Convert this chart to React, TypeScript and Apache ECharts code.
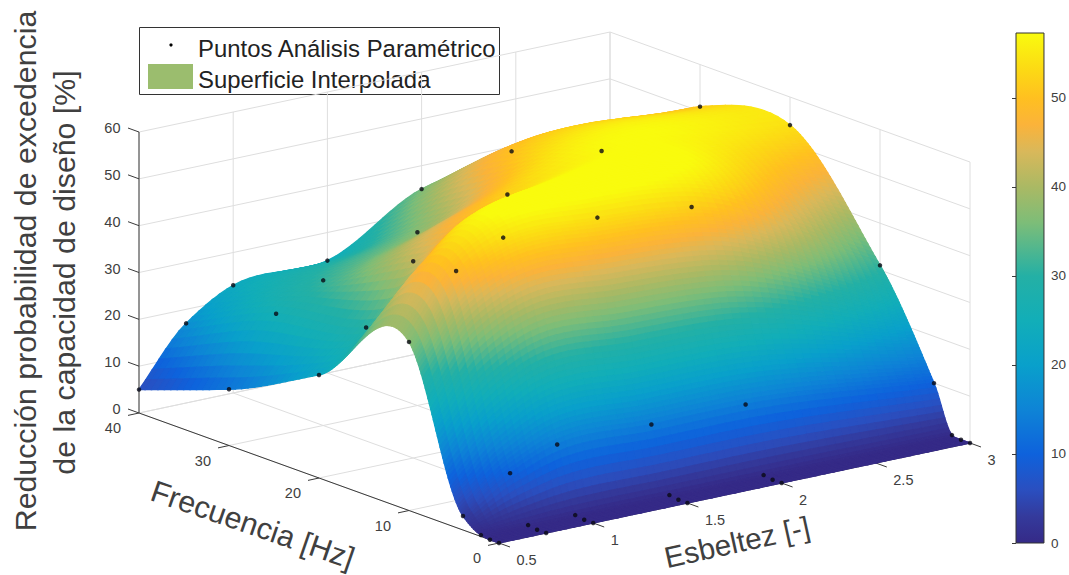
import React, { useEffect, useRef } from "react";
import * as echarts from "echarts";

const ESBELTEZ = [0.5, 0.75, 1, 1.5, 2, 3];
const FRECUENCIA = [0, 1, 2, 4, 10, 20, 30, 40];
// Reducción [%]: one row per frequency, one column per slenderness
const R_F0 = [0, 0, 0, 0, 0, 0];
const R_F1 = [0, 0, 0, 0, 0, 0];
const R_F2 = [0.3, 0.3, 0.3, 0.3, 0.3, 0.3];
const R_F4 = [3, 10, 14, 14, 14, 10];
const R_F10 = [36, 49, 54, 54, 52, 31];
const R_F20 = [22, 30, 42, 52, 57, 54];
const R_F30 = [12, 26, 31, 37, 50, 51];
const R_F40 = [5, 17, 23, 24, 35, 35];
const REDUCCION = [R_F0, R_F1, R_F2, R_F4, R_F10, R_F20, R_F30, R_F40];

const X_TICKS = [0.5, 1, 1.5, 2, 2.5, 3];
const Y_TICKS = [0, 10, 20, 30, 40];
const Z_TICKS = [0, 10, 20, 30, 40, 50, 60];
const CB_TICKS = [0, 10, 20, 30, 40, 50];
const CB_MAX = 57.3;

const PARULA_Z = [0, 3, 6, 10, 15, 20, 25, 30, 36, 40, 44, 47, 50, 53, 57.3];
const PARULA_C = ["#352a87", "#343a9c", "#2a4fc0", "#0e62dc", "#0e84d6", "#09a0cb", "#12aeb8", "#24b0a5", "#7dbd78", "#aab964", "#d9b85a", "#fbb33a", "#ffc020", "#fcd815", "#f9fb0e"];

const TEXT = "#404040";
const GRID = "#dedede";
const AXIS = "#3a3a3a";
const FONT = "'Liberation Sans', Arial, sans-serif";

// Orthographic view of the reference's axes box
const project = (x: number, y: number, z: number): number[] => [
  499 + (x - 0.5) * 188.4 - y * 9,
  543 - (x - 0.5) * 40 - y * 3.25 - z * 4.683,
];

// Piecewise cubic through the read values, with damped three-point slopes at the knots
function hermite(xs: number[], ys: number[]) {
  const n = xs.length;
  const s: number[] = [];
  for (let i = 0; i < n - 1; i++) s.push((ys[i + 1] - ys[i]) / (xs[i + 1] - xs[i]));
  const d: number[] = new Array(n);
  d[0] = s[0];
  d[n - 1] = s[n - 2];
  for (let i = 1; i < n - 1; i++) {
    const h0 = xs[i] - xs[i - 1];
    const h1 = xs[i + 1] - xs[i];
    d[i] = (0.85 * (h0 * s[i] + h1 * s[i - 1])) / (h0 + h1);
  }
  return (x: number) => {
    let k = 0;
    while (k < n - 2 && x > xs[k + 1]) k++;
    const h = xs[k + 1] - xs[k];
    const t = (x - xs[k]) / h;
    const t2 = t * t;
    const t3 = t2 * t;
    return (2 * t3 - 3 * t2 + 1) * ys[k] + (t3 - 2 * t2 + t) * h * d[k] + (-2 * t3 + 3 * t2) * ys[k + 1] + (t3 - t2) * h * d[k + 1];
  };
}

const columnCurves = ESBELTEZ.map((_, c) => hermite(FRECUENCIA, REDUCCION.map((r) => r[c])));
const surfaceAt = (x: number, y: number) => {
  const vals = columnCurves.map((s) => s(y));
  return Math.max(0, hermite(ESBELTEZ, vals)(x));
};

function subdivide(knots: number[], parts: number[]) {
  const out: number[] = [];
  for (let i = 0; i < knots.length - 1; i++) {
    for (let k = 0; k < parts[i]; k++) out.push(knots[i] + ((knots[i + 1] - knots[i]) * k) / parts[i]);
  }
  out.push(knots[knots.length - 1]);
  return out;
}
const meshX = subdivide(ESBELTEZ, [7, 7, 12, 12, 22]);
const meshY = subdivide(FRECUENCIA, [3, 4, 10, 40, 36, 14, 14]);
const meshZ = meshY.map((y) => {
  const rowCurve = hermite(ESBELTEZ, columnCurves.map((s) => s(y)));
  return meshX.map((x) => Math.max(0, rowCurve(x)));
});

function parula(z: number) {
  const t = Math.min(CB_MAX, Math.max(0, z));
  let k = 0;
  while (k < PARULA_Z.length - 2 && t > PARULA_Z[k + 1]) k++;
  const f = (t - PARULA_Z[k]) / (PARULA_Z[k + 1] - PARULA_Z[k]);
  const a = parseInt(PARULA_C[k].slice(1), 16);
  const b = parseInt(PARULA_C[k + 1].slice(1), 16);
  const mix = (s: number) => Math.round(((a >> s) & 255) * (1 - f) + ((b >> s) & 255) * f);
  return `rgb(${mix(16)},${mix(8)},${mix(0)})`;
}

// far cells first
const cells: number[][] = [];
for (let j = meshY.length - 2; j >= 0; j--) {
  for (let i = meshX.length - 2; i >= 0; i--) cells.push([i, j]);
}

// A dot is kept only if the surface does not cover it along the line of sight
function visible(x: number, y: number, z: number) {
  for (let t = 0.01; ; t += 0.01) {
    const px = x - t;
    const py = y - 20.93 * t;
    if (px < 0.5 || py < 0) return true;
    if (surfaceAt(px, py) > z + 23.07 * t + 1.5) return false;
  }
}
const dots: number[][] = [];
FRECUENCIA.forEach((y, r) =>
  ESBELTEZ.forEach((x, c) => {
    const z = REDUCCION[r][c];
    if (visible(x, y, z)) dots.push(project(x, y, z));
  })
);

// Axis box segments: [x1,y1,z1,x2,y2,z2]
const gridSegs: number[][] = [];
X_TICKS.forEach((x) => {
  gridSegs.push([x, 0, 0, x, 40, 0]);
  gridSegs.push([x, 40, 0, x, 40, 60]);
});
Y_TICKS.forEach((y) => {
  gridSegs.push([0.5, y, 0, 3, y, 0]);
  gridSegs.push([3, y, 0, 3, y, 60]);
});
Z_TICKS.forEach((z) => {
  gridSegs.push([0.5, 40, z, 3, 40, z]);
  gridSegs.push([3, 40, z, 3, 0, z]);
});

type Label = { t: string; p: number[]; dx: number; dy: number; align: string };
type Seg = { a: number[]; b: number[] };
const axisSegs: Seg[] = [
  { a: project(0.5, 0, 0), b: project(3, 0, 0) },
  { a: project(0.5, 0, 0), b: project(0.5, 40, 0) },
  { a: project(0.5, 40, 0), b: project(0.5, 40, 60) },
];
const labels: Label[] = [];
X_TICKS.forEach((x) => {
  const p = project(x, 0, 0);
  axisSegs.push({ a: p, b: [p[0] + 11, p[1] + 4] });
  labels.push({ t: String(x), p, dx: 17.5, dy: 17, align: "left" });
});
Y_TICKS.forEach((y) => {
  const p = project(0.5, y, 0);
  axisSegs.push({ a: p, b: [p[0] - 11, p[1] + 2.4] });
  labels.push({ t: String(y), p, dx: -18, dy: 15, align: "right" });
});
Z_TICKS.forEach((z) => {
  const p = project(0.5, 40, z);
  axisSegs.push({ a: p, b: [p[0] - 11, p[1] - 4] });
  labels.push({ t: String(z), p, dx: -18.5, dy: -4, align: "right" });
});

export default function App() {
  const ref = useRef<HTMLDivElement>(null);
  useEffect(() => {
    document.body.style.margin = "0";
    const chart = echarts.init(ref.current!, null, { renderer: "svg" });
    const poly = (api: any, pts: number[][], fill: string) => ({
      type: "polygon",
      shape: { points: pts.map((p) => api.coord(p)) },
      style: { fill, stroke: fill, lineWidth: 1.3 },
    });
    const titleText = (text: string, x: number, y: number, rotation: number, size: number) => ({
      type: "text",
      x,
      y,
      rotation,
      style: { text, fontSize: size, fontFamily: FONT, fill: TEXT, align: "center", verticalAlign: "middle" },
    });
    chart.setOption({
      animation: false,
      backgroundColor: "#ffffff",
      grid: [
        { left: 0, top: 0, width: 1069, height: 575, show: false },
        { left: 1016, top: 33, width: 29, height: 510, show: false },
      ],
      xAxis: [
        { type: "value", min: 0, max: 1069, show: false, gridIndex: 0 },
        { type: "value", min: 0, max: 1, show: false, gridIndex: 1 },
      ],
      yAxis: [
        { type: "value", min: 0, max: 575, inverse: true, show: false, gridIndex: 0 },
        {
          type: "value",
          gridIndex: 1,
          position: "right",
          min: 0,
          max: CB_MAX,
          splitLine: { show: false },
          axisLine: { show: false },
          axisTick: { show: true, inside: true, length: 4, customValues: CB_TICKS, lineStyle: { color: AXIS } },
          axisLabel: { customValues: CB_TICKS, margin: 7, color: TEXT, fontSize: 13.5, fontFamily: FONT },
        },
      ],
      graphic: [
        {
          type: "group",
          z: 100,
          children: [
            { type: "rect", shape: { x: 139.5, y: 27.5, width: 360, height: 67 }, style: { fill: "#fff", stroke: "#333", lineWidth: 1 } },
            { type: "circle", shape: { cx: 171, cy: 45, r: 1.6 }, style: { fill: "#000" } },
            { type: "rect", shape: { x: 148, y: 64, width: 45, height: 25 }, style: { fill: "#9bbd6e" } },
            { type: "text", x: 198, y: 48, style: { text: "Puntos Análisis Paramétrico", fontSize: 23.9, fontFamily: FONT, fill: "#222", verticalAlign: "middle" } },
            { type: "text", x: 198, y: 79, style: { text: "Superficie Interpolada", fontSize: 23.9, fontFamily: FONT, fill: "#222", verticalAlign: "middle" } },
          ],
        },
        titleText("Reducción probabilidad de excedencia", 25, 271, Math.PI / 2, 30.3),
        titleText("de la capacidad de diseño [%]", 64.5, 272.5, Math.PI / 2, 30.3),
        titleText("Frecuencia [Hz]", 253, 524, (-19 * Math.PI) / 180, 30.4),
        titleText("Esbeltez [-]", 737, 542, (12.5 * Math.PI) / 180, 29.6),
      ],
      series: [
        {
          type: "custom",
          name: "Rejilla",
          coordinateSystem: "cartesian2d",
          xAxisIndex: 0,
          yAxisIndex: 0,
          clip: false,
          silent: true,
          z: 1,
          data: gridSegs,
          renderItem: (params: any, api: any) => {
            const s = gridSegs[params.dataIndex];
            const a = api.coord(project(s[0], s[1], s[2]));
            const b = api.coord(project(s[3], s[4], s[5]));
            return { type: "line", shape: { x1: a[0], y1: a[1], x2: b[0], y2: b[1] }, style: { stroke: GRID, lineWidth: 1 } };
          },
        },
        {
          type: "custom",
          name: "Ejes",
          coordinateSystem: "cartesian2d",
          xAxisIndex: 0,
          yAxisIndex: 0,
          clip: false,
          silent: true,
          z: 2,
          data: axisSegs.map((_, i) => i),
          renderItem: (params: any, api: any) => {
            const s = axisSegs[params.dataIndex];
            const a = api.coord(s.a);
            const b = api.coord(s.b);
            return { type: "line", shape: { x1: a[0], y1: a[1], x2: b[0], y2: b[1] }, style: { stroke: AXIS, lineWidth: 1 } };
          },
        },
        {
          type: "custom",
          name: "Etiquetas",
          coordinateSystem: "cartesian2d",
          xAxisIndex: 0,
          yAxisIndex: 0,
          clip: false,
          silent: true,
          z: 3,
          data: labels.map((_, i) => i),
          renderItem: (params: any, api: any) => {
            const l = labels[params.dataIndex];
            const p = api.coord([l.p[0] + l.dx, l.p[1] + l.dy]);
            return {
              type: "text",
              x: p[0],
              y: p[1],
              style: { text: l.t, fontSize: 14.5, fontFamily: FONT, fill: TEXT, align: l.align, verticalAlign: "middle" },
            };
          },
        },
        {
          type: "custom",
          name: "Superficie Interpolada",
          coordinateSystem: "cartesian2d",
          xAxisIndex: 0,
          yAxisIndex: 0,
          clip: false,
          silent: true,
          progressive: 0,
          z: 5,
          data: cells,
          renderItem: (params: any, api: any) => {
            const [i, j] = cells[params.dataIndex];
            const zz = [meshZ[j][i], meshZ[j][i + 1], meshZ[j + 1][i + 1], meshZ[j + 1][i]];
            const pts = [
              project(meshX[i], meshY[j], zz[0]),
              project(meshX[i + 1], meshY[j], zz[1]),
              project(meshX[i + 1], meshY[j + 1], zz[2]),
              project(meshX[i], meshY[j + 1], zz[3]),
            ];
            return poly(api, pts, parula((zz[0] + zz[1] + zz[2] + zz[3]) / 4));
          },
        },
        {
          type: "scatter",
          name: "Puntos Análisis Paramétrico",
          xAxisIndex: 0,
          yAxisIndex: 0,
          clip: false,
          silent: true,
          z: 6,
          symbolSize: 4.5,
          itemStyle: { color: "#0a0a14" },
          data: dots,
        },
        {
          type: "custom",
          name: "Barra de color",
          coordinateSystem: "cartesian2d",
          xAxisIndex: 1,
          yAxisIndex: 1,
          clip: false,
          silent: true,
          z: 4,
          data: [[0, CB_MAX]],
          renderItem: (params: any, api: any) => {
            const a = api.coord([0, CB_MAX]);
            const b = api.coord([1, 0]);
            return {
              type: "rect",
              shape: { x: a[0], y: a[1], width: b[0] - a[0], height: b[1] - a[1] },
              style: {
                fill: new echarts.graphic.LinearGradient(0, 1, 0, 0, PARULA_C.map((color, i) => ({ offset: PARULA_Z[i] / CB_MAX, color }))),
                stroke: "#333",
                lineWidth: 1,
              },
            };
          },
        },
      ],
    });
    return () => chart.dispose();
  }, []);
  return <div ref={ref} style={{ position: "absolute", left: 0, top: 0, width: 1069, height: 575 }} />;
}
